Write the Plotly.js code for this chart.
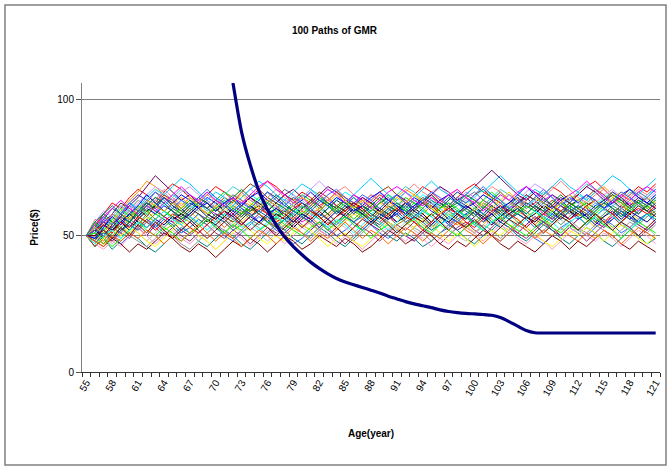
<!DOCTYPE html>
<html>
<head>
<meta charset="utf-8">
<script src="https://cdn.plot.ly/plotly-3.0.1.min.js"></script>
<style>html,body{margin:0;padding:0;background:#fff;}#chart{width:669px;height:467px;}</style>
</head>
<body>
<div id="chart"></div>
<script>
const ages = [55,56,57,58,59,60,61,62,63,64,65,66,67,68,69,70,71,72,73,74,75,76,77,78,79,80,81,82,83,84,85,86,87,88,89,90,91,92,93,94,95,96,97,98,99,100,101,102,103,104,105,106,107,108,109,110,111,112,113,114,115,116,117,118,119,120,121];
const tickAges = [55,58,61,64,67,70,73,76,79,82,85,88,91,94,97,100,103,106,109,112,115,118,121];

// GMR curve (thick navy line), ages 72..121
const gmrAges = [72,73,74,75,76,77,78,79,80,81,82,83,84,85,86,87,88,89,90,91,92,93,94,95,96,97,98,99,100,101,102,103,104,105,106,107,108,109,110,111,112,113,114,115,116,117,118,119,120,121];
const gmr = [106,88,76,66.5,59.5,54,49.5,46,43,40.3,38,36,34.3,33,32,31,30,29,27.8,26.8,25.8,25,24.3,23.6,22.8,22.2,21.8,21.5,21.3,21.1,20.8,20,18.5,16.8,15.2,14.4,14.3,14.3,14.3,14.3,14.3,14.3,14.3,14.3,14.3,14.3,14.3,14.3,14.3,14.3];

// Simulated price paths
const p01 = [50,53,56,54,58,61,59,62,60,57,55,58,61,63,60,58,56,59,62,64,61,59,57,60,58,55,57,60,63,61,59,62,64,62,59,57,55,58,60,63,65,62,60,58,61,59,56,54,57,60,62,64,61,58,56,59,61,63,60,58,55,57,60,62,59,61,64];
const p02 = [50,48,51,55,57,54,52,56,59,57,60,62,59,56,54,57,55,52,55,58,61,58,56,53,55,58,60,57,54,52,55,58,56,59,62,60,57,55,53,56,58,61,59,56,54,51,54,57,59,62,60,57,55,58,61,63,60,58,56,53,55,58,61,59,56,58,60];
const p03 = [50,52,49,53,56,60,63,61,58,62,65,63,60,62,66,64,61,59,62,65,63,60,58,61,64,62,59,57,60,63,66,64,61,58,60,63,61,59,62,65,63,60,57,59,62,64,67,65,62,60,58,61,63,60,57,59,62,65,63,61,64,66,63,60,62,65,67];
const p04 = [50,47,51,48,52,55,53,50,54,57,55,52,50,53,56,54,51,49,52,55,58,56,53,51,54,57,55,52,50,53,56,59,57,54,52,55,53,50,48,51,54,57,55,52,54,57,60,58,55,53,51,54,57,55,52,50,53,56,58,55,53,56,59,57,54,52,55];
const p05 = [50,54,58,62,60,64,67,65,62,66,69,67,64,62,65,68,66,63,61,64,67,70,68,65,63,66,64,61,63,66,64,62,59,62,65,63,60,62,65,68,66,63,61,64,67,69,66,64,62,65,63,60,62,65,68,66,63,65,68,70,67,64,62,65,68,66,69];
const p06 = [50,46,49,45,48,51,49,46,44,47,50,53,51,48,46,49,52,50,47,45,48,51,54,52,49,47,50,53,51,48,46,49,52,55,53,50,48,51,49,46,48,51,54,52,49,47,50,52,55,53,50,48,51,54,52,49,47,50,53,51,48,46,49,52,50,47,49];
const p07 = [50,52,55,58,56,53,57,60,58,61,59,56,58,61,64,62,59,57,60,58,55,57,60,63,61,58,56,59,62,60,57,55,58,61,59,56,58,61,64,62,59,57,54,57,60,58,55,58,61,59,62,65,63,60,58,61,59,56,58,61,63,60,58,56,59,62,60];
const p08 = [50,51,54,52,56,59,57,55,58,56,53,56,59,62,60,63,66,64,61,59,62,60,57,59,62,65,63,60,58,61,59,56,59,62,60,58,61,64,62,59,57,60,62,59,57,55,58,61,59,56,58,61,64,62,59,57,60,58,56,59,62,60,57,59,62,64,61];
const p09 = [50,49,47,50,53,51,54,57,55,52,54,57,55,58,56,53,51,54,57,60,58,55,53,56,59,57,54,52,55,53,56,59,57,54,57,60,62,59,57,54,52,55,58,56,53,55,58,56,53,51,54,57,59,56,54,57,55,52,55,58,56,53,55,58,61,59,56];
const p10 = [50,53,57,55,59,63,66,70,68,65,62,64,61,59,62,60,57,60,63,61,58,56,59,62,64,61,58,60,63,66,64,61,63,60,58,61,64,67,65,62,60,63,65,62,60,57,60,63,61,58,60,63,66,64,61,59,62,60,63,66,68,65,62,60,63,61,58];
const p11 = [50,48,52,50,47,50,53,56,54,51,49,52,55,58,56,53,50,48,51,54,57,55,52,50,47,49,52,55,53,50,52,55,57,54,51,49,52,50,53,56,54,51,53,56,58,55,53,50,48,51,54,52,49,47,50,53,55,52,50,53,56,54,51,53,56,58,55];
const p12 = [50,55,53,57,61,59,56,60,63,61,64,67,65,62,59,62,65,68,66,63,61,64,62,59,61,64,67,65,62,60,63,61,58,61,64,62,65,68,66,63,60,62,65,63,60,58,61,64,67,65,62,60,63,66,64,61,63,66,69,67,64,61,63,66,64,62,65];
const p13 = [50,51,48,52,55,58,56,53,56,59,57,54,57,60,58,56,53,56,59,57,60,63,61,58,56,59,57,54,57,60,58,55,53,56,59,57,60,58,55,58,61,59,56,54,57,60,63,61,58,56,59,57,54,57,60,62,59,57,60,58,55,58,61,59,62,60,57];
const p14 = [50,47,50,53,51,55,58,62,66,64,61,58,61,64,62,59,62,65,63,60,58,61,64,67,65,62,60,63,61,58,61,59,62,65,63,60,57,60,63,61,64,62,59,61,64,66,63,61,58,61,64,62,60,63,61,58,60,63,65,62,60,57,60,63,66,64,61];
const p15 = [50,49,52,55,53,50,48,46,49,52,50,47,45,48,51,54,52,49,52,55,53,50,53,56,54,51,49,52,55,53,50,48,51,54,57,55,52,50,53,51,48,51,54,56,53,51,54,52,49,52,55,53,50,52,55,58,56,53,51,54,52,49,52,55,53,51,54];
const p16 = [50,52,50,54,57,55,59,62,60,64,61,59,62,60,57,60,62,59,57,60,63,66,64,61,59,62,60,57,60,63,61,58,61,59,62,64,61,59,56,59,62,60,63,66,64,61,58,61,59,62,64,61,59,62,65,63,60,58,61,63,60,58,61,64,62,59,62];
const p17 = [50,54,51,49,53,56,54,58,55,53,56,54,51,54,57,55,58,61,59,56,54,57,55,52,55,58,56,59,62,60,57,55,58,56,53,56,59,61,58,56,53,56,59,57,60,58,55,57,60,58,55,53,56,59,57,54,57,60,58,55,58,61,59,56,54,57,59];
const p18 = [50,46,50,54,58,56,60,57,61,65,63,60,63,61,58,61,64,62,66,69,67,64,62,65,63,60,63,66,64,61,59,62,60,63,66,68,65,62,60,63,61,58,61,64,62,65,67,64,62,59,62,65,63,60,63,61,58,61,64,67,65,62,64,67,65,62,60];
const p19 = [50,53,50,48,51,49,53,56,53,50,53,50,48,51,54,51,49,52,50,47,50,53,51,54,57,54,52,55,52,50,47,50,53,51,48,51,54,52,55,53,50,47,50,53,55,52,50,53,56,54,51,49,52,55,53,50,53,51,48,51,54,57,54,52,49,52,55];
const p20 = [50,51,56,60,58,62,65,63,61,64,62,60,57,60,63,60,57,55,58,61,59,62,60,57,55,58,61,64,62,59,62,65,63,60,58,61,59,56,59,62,60,57,60,63,61,59,62,60,57,59,62,64,61,59,56,59,62,60,57,60,62,65,63,61,58,61,63];
const p21 = [50,48,53,58,62,60,57,61,64,62,59,57,60,58,55,58,56,53,56,59,61,58,56,59,57,60,63,61,58,55,58,61,59,56,54,57,60,58,61,64,62,59,56,59,57,54,57,60,58,56,59,62,60,57,55,58,61,63,60,57,60,58,55,58,61,59,57];
const p22 = [50,52,49,52,55,52,56,59,61,59,56,58,56,53,56,54,57,60,58,61,58,55,58,56,53,56,59,57,54,57,60,62,60,57,60,58,55,57,60,58,55,58,61,58,56,59,57,54,57,60,58,56,58,61,59,56,59,57,54,57,60,63,60,58,55,58,56];
const p23 = [50,55,59,57,61,58,62,65,68,66,63,66,68,65,63,60,63,61,64,67,65,62,60,63,61,64,67,70,67,65,62,64,61,63,66,64,61,63,60,63,66,68,65,63,66,64,61,59,62,65,63,66,69,67,64,61,64,62,59,62,65,67,64,62,65,63,66];
const p24 = [50,47,45,48,46,50,53,50,47,50,52,49,47,50,48,45,48,51,49,46,49,52,50,47,50,53,55,52,50,47,50,48,45,48,51,53,50,48,51,49,46,49,47,50,53,51,48,51,54,52,49,47,50,48,45,48,51,53,50,48,51,49,46,49,52,50,47];
const p25 = [50,51,53,56,59,57,60,58,55,57,60,63,61,59,62,64,61,58,60,57,60,62,59,62,65,63,60,58,61,59,62,60,57,60,63,65,62,60,57,59,62,60,58,61,63,60,58,60,63,61,58,61,63,61,58,56,59,61,64,62,59,62,60,57,59,62,64];
const p26 = [50,50,47,51,54,57,61,59,56,59,62,59,57,54,57,60,57,55,58,60,58,55,53,56,58,61,59,56,58,61,63,61,58,56,59,57,54,56,59,62,60,57,55,58,60,63,61,59,56,58,61,59,56,54,57,59,62,60,58,55,57,60,58,61,63,61,58];
const p27 = [50,53,58,55,52,55,59,62,59,57,60,58,61,64,62,59,61,64,67,64,62,59,62,60,57,60,62,65,62,60,63,60,58,61,64,61,59,62,60,63,65,62,60,62,65,63,60,63,66,63,61,58,61,59,62,65,62,60,62,60,63,65,63,60,58,61,64];
const p28 = [50,48,51,47,50,54,51,48,51,54,56,54,51,48,51,53,56,54,51,53,51,48,51,54,56,53,51,49,52,55,53,50,52,55,57,54,52,55,52,50,53,55,53,50,48,51,53,56,54,51,54,52,49,51,54,56,53,51,54,57,55,52,50,53,55,53,50];
const p29 = [50,56,54,58,56,59,63,60,63,67,64,61,64,62,65,63,60,63,66,63,61,64,67,64,62,59,62,65,63,66,68,65,62,65,63,60,63,66,69,66,64,61,64,67,64,62,65,68,66,63,60,63,66,64,67,70,67,64,62,65,67,64,61,64,67,65,68];
const p30 = [50,49,51,49,52,54,52,55,53,56,54,51,53,56,54,57,55,52,54,57,59,57,54,56,59,57,55,58,56,54,57,55,52,55,57,60,58,55,57,55,52,54,57,55,58,60,58,55,53,56,58,56,53,55,58,56,59,61,59,56,54,56,59,57,55,58,60];
const p31 = [50,52,55,53,57,61,64,68,72,69,66,63,65,62,60,63,61,58,61,64,62,59,62,65,67,64,62,65,68,66,63,61,64,62,59,62,65,63,60,62,65,68,66,63,65,68,71,74,71,68,65,63,66,64,61,64,62,65,68,66,63,66,64,61,64,62,60];
const p32 = [50,48,46,49,47,44,47,45,48,51,49,46,44,47,45,42,45,48,46,49,47,44,47,50,48,45,47,50,48,46,49,47,44,46,49,52,50,47,49,52,50,47,45,48,46,49,52,50,47,45,48,46,44,47,50,48,45,48,46,49,52,50,47,45,48,46,44];
const p33 = [50,53,51,55,58,62,60,64,67,65,68,71,69,66,63,66,64,61,64,67,70,68,65,63,66,69,67,64,61,64,62,65,68,71,68,65,63,66,64,67,70,67,65,62,65,68,66,69,72,69,66,64,67,65,68,71,68,66,63,66,69,72,70,67,65,68,71];
const p34 = [50,47,49,52,50,53,51,48,46,49,52,55,53,50,48,45,48,51,54,52,49,47,50,48,51,54,52,49,46,49,51,48,46,49,52,55,53,50,53,56,54,51,48,51,49,46,49,52,50,53,56,53,51,48,46,49,52,50,53,51,48,51,54,52,49,47,50];
const p35 = [50,55,52,56,60,57,61,58,62,59,57,60,63,61,58,60,63,60,58,61,64,62,59,57,60,58,61,64,61,59,62,60,57,59,62,65,62,59,62,60,57,60,62,60,57,60,63,66,63,60,58,61,59,56,59,62,60,63,61,58,61,64,62,59,62,60,63];
const p36 = [50,50,54,52,55,58,55,53,56,54,57,55,58,61,58,56,59,57,54,57,55,58,60,58,55,58,56,53,56,59,57,60,58,55,58,56,59,62,59,57,54,57,55,58,61,59,56,58,55,58,60,57,55,58,61,58,56,59,57,54,57,59,56,59,57,55,58];
const p37 = [50,52,54,51,55,53,57,55,52,55,58,56,53,51,54,57,59,56,54,57,60,58,55,57,60,62,59,57,54,57,59,62,60,57,55,58,60,57,55,52,55,58,60,58,55,53,56,59,61,58,56,53,56,58,61,59,56,58,61,63,60,58,55,58,60,58,61];
const p38 = [50,49,53,57,54,58,61,65,62,59,62,65,63,60,62,59,62,64,61,64,66,63,61,58,61,63,66,63,61,64,62,59,61,64,66,63,61,58,61,63,60,63,65,62,60,62,65,63,60,62,65,68,65,62,60,63,65,62,65,63,60,62,65,67,64,62,65];
const p39 = [50,51,49,46,49,52,55,52,50,53,51,48,51,53,56,53,51,54,52,49,52,54,57,54,52,50,53,55,52,55,57,54,52,49,52,54,51,54,56,53,51,54,52,50,53,55,52,55,57,54,52,50,53,56,53,51,54,52,55,57,54,52,49,52,55,53,51];
const p40 = [50,54,57,60,63,60,58,61,59,62,65,68,65,63,66,63,61,64,62,65,68,70,67,65,62,64,61,64,67,65,62,65,63,60,63,66,68,66,63,61,64,62,65,67,64,62,59,62,65,63,66,68,66,63,65,62,65,67,70,67,64,62,65,63,66,68,66];
const p41 = [50,47,50,52,49,52,55,53,56,59,56,54,57,55,52,55,58,56,53,55,52,55,57,55,58,61,58,56,53,56,54,51,54,57,55,52,55,58,56,59,57,54,56,59,57,54,52,55,58,56,53,56,59,57,55,52,55,57,54,57,60,57,55,52,55,58,56];
const p42 = [50,53,51,55,58,56,60,63,61,59,62,60,64,61,58,61,59,62,65,62,60,63,61,58,61,64,62,59,62,65,63,60,63,61,58,61,64,62,65,63,60,58,61,64,62,59,62,60,63,66,63,61,64,62,59,62,65,63,60,63,61,64,66,63,61,64,62];
const p43 = [50,50,52,49,53,50,54,51,55,52,49,52,55,52,49,52,55,58,55,52,55,53,50,53,56,53,56,59,56,53,50,53,56,54,57,54,51,54,57,55,58,55,52,55,53,56,53,50,53,56,54,57,54,51,54,57,55,52,55,58,55,52,55,53,50,53,56];
const p44 = [50,55,58,61,58,55,58,61,64,62,59,56,59,62,60,57,60,63,60,57,59,62,65,62,59,57,60,63,61,58,61,64,61,58,56,59,62,60,57,60,63,61,64,62,59,57,60,63,60,57,60,58,61,64,61,58,61,59,56,59,62,60,57,60,63,61,64];
const p45 = [50,48,46,50,48,51,49,52,50,47,50,48,51,54,51,48,51,49,46,49,52,50,47,50,53,51,48,51,49,52,55,52,49,52,50,47,50,53,51,48,51,49,52,55,52,50,47,50,48,51,54,52,49,52,50,53,50,48,51,49,52,50,47,50,53,51,49];
const p46 = [50,52,57,54,58,62,59,63,66,63,60,63,61,64,67,64,62,59,62,60,63,66,63,61,64,62,59,62,65,67,64,62,65,63,60,63,65,62,60,63,66,64,61,64,62,65,68,65,63,60,63,61,64,67,64,61,64,62,65,63,60,63,66,64,61,64,67];

const paths = [p01,p02,p03,p04,p05,p06,p07,p08,p09,p10,p11,p12,p13,p14,p15,p16,p17,p18,p19,p20,p21,p22,p23,p24,p25,p26,p27,p28,p29,p30,p31,p32,p33,p34,p35,p36,p37,p38,p39,p40,p41,p42,p43,p44,p45,p46];
const palette = ['#FF00FF','#FFCC00','#00FFFF','#800080','#FF0000','#008080','#0000FF','#00CC00','#99CC00','#FF9900','#3366FF','#33CCCC','#FF6600','#666699','#969696','#003366','#339966','#993300','#993366','#333399','#333333','#000000','#CC99FF','#FF99CC','#99CCFF','#808000','#008000','#C0C0C0','#FF8080','#0066CC','#660066','#800000','#00CCFF','#FFFF00','#00FF00','#000080','#FF0000','#0000FF','#00FF00','#FF00FF','#00FFFF','#FFCC00','#800000','#008080','#FF6600','#3366FF'];

const traces = paths.map((p, i) => ({
  x: ages, y: p, type: 'scatter', mode: 'lines',
  line: {color: palette[i % palette.length], width: 1},
  hoverinfo: 'skip', showlegend: false
}));
traces.push({
  x: gmrAges, y: gmr, type: 'scatter', mode: 'lines',
  line: {color: '#000080', width: 3.2, shape: 'spline', smoothing: 0.7}, showlegend: false
});

const L = 82, R = 660, T = 83, B = 372, W = 669, H = 467;
const pw = R - L, ph = B - T;
const layout = {
  width: W, height: H,
  margin: {l: L, r: W - R, t: T, b: H - B, pad: 0},
  paper_bgcolor: '#fff', plot_bgcolor: '#fff',
  font: {family: 'Liberation Sans, Arial, sans-serif', size: 10, color: '#000'},
  title: {text: '<b>100 Paths of GMR</b>', font: {size: 10}, x: 0.5, xanchor: 'center', y: 1 - 30 / H, yanchor: 'middle'},
  xaxis: {
    range: [54.5, 121.5], tickmode: 'array', tickvals: tickAges, ticktext: tickAges.map(String),
    tickangle: -60, ticks: '', showgrid: false, zeroline: false,
    showline: true, linecolor: '#333', linewidth: 1,
    minor: {tick0: 54.5, dtick: 1, ticks: 'outside', ticklen: 4, tickcolor: '#333', tickwidth: 1, showgrid: false},
    title: {text: '<b>Age(year)</b>', font: {size: 10}, standoff: 33},
    tickfont: {size: 10}, fixedrange: true
  },
  yaxis: {
    range: [0, 106], tickvals: [0, 50, 100], ticks: 'outside', ticklen: 5, tickcolor: '#555',
    showgrid: true, gridcolor: '#808080', gridwidth: 1, zeroline: false,
    showline: true, linecolor: '#808080', linewidth: 1,
    title: {text: '<b>Price($)</b>', font: {size: 10}, standoff: 16},
    tickfont: {size: 10}, fixedrange: true
  },
  shapes: [{
    type: 'rect', xref: 'paper', yref: 'paper',
    x0: (5 - L) / pw, x1: (666 - L) / pw,
    y0: (B - 465) / ph, y1: (B - 5) / ph,
    line: {color: '#808080', width: 1.5}, fillcolor: 'rgba(0,0,0,0)', layer: 'below'
  }]
};

Plotly.newPlot('chart', traces, layout, {staticPlot: true, displayModeBar: false});
</script>
</body>
</html>
